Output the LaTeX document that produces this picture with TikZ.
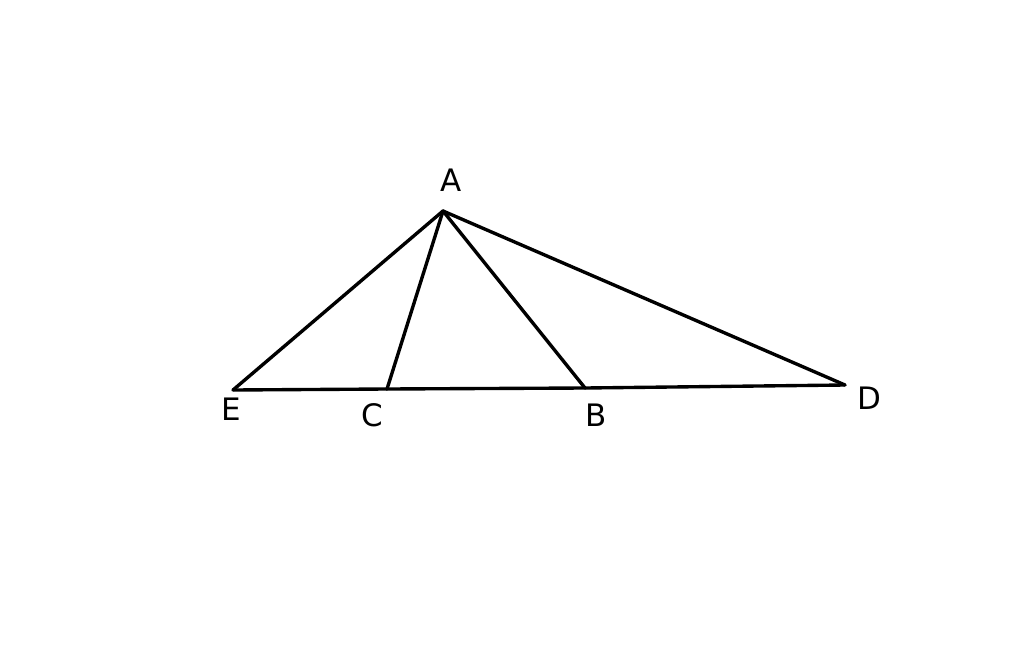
\documentclass[tikz,border=0pt]{standalone}
\usepackage{fontspec}
\setmainfont{DejaVu Sans}
\usepackage{tikz}
\usetikzlibrary{positioning}
\tikzset{seg/.style = {line width=2.4pt, line cap=round, line join=round}}

\begin{document}
\begin{tikzpicture}[x=0.025cm,y=-0.025cm,pt label/.style={inner sep=0pt,font=\fontsize{22}{26}\selectfont}]
                \useasboundingbox (0,0) rectangle (1024,644);
                \coordinate (A) at (443,211);
                \coordinate (E) at (233,390);
                \coordinate (C) at (387,389);
                \coordinate (B) at (585,388);
                \coordinate (D) at (845,385);

                \node[pt label] (lA) at (451,180) {A};
                \node[pt label] (lE) at (231,409) {E};
                \node[pt label] (lC) at (372,415) {C};
                \node[pt label] (lB) at (596,415) {B};
                \node[pt label] (lD) at (869,398) {D};

                \path[seg] (E) edge[] (C);
                \path[seg] (C) edge[] (B);
                \path[seg] (B) edge[] (D);
                \path[seg] (A) edge[] (E);
                \path[seg] (A) edge[] (C);
                \path[seg] (A) edge[] (B);
                \path[seg] (A) edge[] (D);
            \end{tikzpicture}
\end{document}
